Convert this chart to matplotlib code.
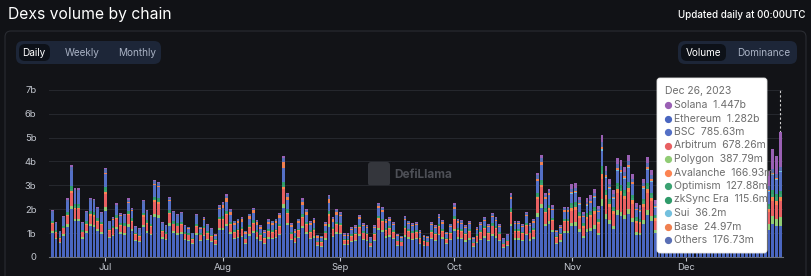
import numpy as np
import pandas as pd
import matplotlib
matplotlib.use("Agg")
import matplotlib.pyplot as plt
from matplotlib.patches import FancyBboxPatch
from matplotlib.lines import Line2D

plt.rcParams['font.family'] = ['Inter', 'DejaVu Sans']

# daily total volume (billions USD)
jun_tot = [1.96, 1.45, 1.10, 1.71, 2.45, 3.84, 2.87, 2.87, 1.47, 1.93, 2.48, 2.42, 2.10, 1.89]
jul_tot = [3.74, 1.52, 1.68, 2.24, 1.85, 1.80, 2.45, 2.07, 1.29, 1.20, 2.38, 1.96, 1.75, 3.24,
           3.15, 1.47, 1.34, 2.52, 1.92, 1.80, 1.87, 1.34, 1.27, 1.02, 1.78, 1.27, 1.68, 1.38,
           1.20, 0.96, 2.17]
aug_tot = [2.31, 2.62, 1.99, 1.52, 1.61, 1.68, 1.10, 1.82, 2.07, 1.54, 1.34, 1.13, 1.57, 1.52,
           1.61, 1.85, 4.22, 2.69, 1.41, 1.16, 1.61, 2.45, 1.99, 1.50, 1.64, 0.92, 0.88, 1.47,
           2.59, 1.68, 1.99]
sep_tot = [1.89, 0.99, 0.99, 1.24, 1.34, 1.76, 1.43, 1.34, 0.82, 1.34, 2.27, 2.10, 1.60, 1.68,
           1.47, 0.96, 0.89, 1.71, 1.52, 1.43, 1.47, 1.12, 0.92, 0.89, 1.47, 1.34, 1.80, 1.54,
           1.06, 1.40]
oct_tot = [2.24, 1.60, 1.54, 1.34, 1.52, 0.85, 1.24, 1.47, 1.68, 1.40, 1.85, 1.68, 1.38, 0.78,
           0.96, 2.68, 1.52, 1.52, 1.40, 1.89, 1.43, 1.60, 3.52, 4.26, 2.68, 2.86, 2.17, 1.15,
           1.34, 2.10, 2.10]
nov_tot = [3.04, 3.09, 2.52, 1.90, 2.46, 2.59, 2.83, 2.15, 5.12, 3.81, 3.26, 2.80, 4.16, 4.05,
           3.77, 4.26, 3.49, 2.24, 2.17, 3.28, 4.19, 3.63, 2.38, 2.60, 2.90, 2.40, 3.00, 3.30,
           3.50, 3.20]
dec_tot = [3.10, 2.90, 3.00, 4.20, 4.00, 3.90, 4.60, 3.80, 3.60, 3.20, 4.80, 4.40, 3.90, 3.70,
           3.80, 3.60, 3.30, 3.40, 4.20, 4.10, 3.90, 3.80, 3.60, 4.50, 4.22]

# stacking order (bottom -> top) and colours
chains = ["Ethereum", "Polygon", "Arbitrum", "Avalanche", "Optimism", "zkSync Era",
          "BSC", "Sui", "Base", "Others", "Solana"]
colors = ["#4a66c0", "#91cc75", "#e86062", "#fc8452", "#3ba272", "#2f9b6a",
          "#5470c6", "#73c0de", "#f08050", "#5a6fb5", "#9a60b4"]

# estimated monthly share of each chain (Jun .. Dec)
share_eth = [0.52, 0.52, 0.49, 0.50, 0.48, 0.42, 0.31]
share_polygon = [0.04, 0.04, 0.04, 0.04, 0.04, 0.05, 0.07]
share_arb = [0.14, 0.15, 0.14, 0.15, 0.17, 0.17, 0.14]
share_avax = [0.02, 0.02, 0.02, 0.02, 0.02, 0.04, 0.04]
share_op = [0.02, 0.02, 0.02, 0.02, 0.02, 0.03, 0.03]
share_zksync = [0.03, 0.03, 0.03, 0.03, 0.03, 0.03, 0.03]
share_bsc = [0.17, 0.15, 0.14, 0.14, 0.14, 0.13, 0.14]
share_sui = [0.00, 0.00, 0.00, 0.00, 0.00, 0.01, 0.01]
share_base = [0.00, 0.01, 0.06, 0.04, 0.03, 0.02, 0.01]
share_others = [0.04, 0.04, 0.04, 0.04, 0.04, 0.04, 0.04]
share_sol = [0.02, 0.02, 0.02, 0.02, 0.03, 0.06, 0.18]

# tooltip: Dec 26, 2023 (billions)
tip_names = ["Solana", "Ethereum", "BSC", "Arbitrum", "Polygon", "Avalanche",
             "Optimism", "zkSync Era", "Sui", "Base", "Others"]
tip_values = [1.447, 1.282, 0.78563, 0.67826, 0.38779, 0.16693,
              0.12788, 0.1156, 0.0362, 0.02497, 0.17673]

shares = [share_eth, share_polygon, share_arb, share_avax, share_op, share_zksync,
          share_bsc, share_sui, share_base, share_others, share_sol]

totals = np.array(jun_tot + jul_tot + aug_tot + sep_tot + oct_tot + nov_tot + dec_tot)
dates = pd.date_range("2023-06-17", periods=len(totals) + 1, freq="D")
month_idx = dates.month.values[:-1] - 6

seg = np.zeros((len(chains), len(dates)))
for k, sh in enumerate(shares):
    seg[k, :-1] = totals * np.array(sh)[month_idx]
tip_map = dict(zip(tip_names, tip_values))
seg[:, -1] = [tip_map[c] for c in chains]

W, H = 811, 276
BG = "#111216"

fig = plt.figure(figsize=(W / 100, H / 100), dpi=100, facecolor=BG)

# background / decoration layer in pixel coords
bg = fig.add_axes([0, 0, 1, 1], zorder=0)
bg.set_xlim(0, W)
bg.set_ylim(H, 0)
bg.axis("off")

bg.text(8, 15, "Dexs volume by chain", color="white", fontsize=11.3, va="center", ha="left")
bg.text(805, 15, "Updated daily at 00:00UTC", color="white", fontsize=7,
        va="center", ha="right", fontweight="medium")

bg.add_patch(FancyBboxPatch((5, 31), 801, 270, boxstyle="round,pad=0,rounding_size=6",
                            facecolor="#121317", edgecolor="#2a2c32", linewidth=0.8))


def button_group(x0, x1, labels, centers, sel):
    bg.add_patch(FancyBboxPatch((x0, 41), x1 - x0, 23, boxstyle="round,pad=0,rounding_size=7",
                                facecolor="#1d2638", edgecolor="none"))
    sx0, sx1 = sel
    bg.add_patch(FancyBboxPatch((sx0, 44), sx1 - sx0, 17, boxstyle="round,pad=0,rounding_size=6",
                                facecolor="#0d1118", edgecolor="none"))
    for i, (lab, cx) in enumerate(zip(labels, centers)):
        bg.text(cx, 52.5, lab, ha="center", va="center", fontsize=7.2,
                color="white" if i == 0 else "#a9b2c4")


button_group(16, 161, ["Daily", "Weekly", "Monthly"], [34, 82, 137], (19, 50))
button_group(678, 797, ["Volume", "Dominance"], [703, 764], (681, 726))

# watermark
bg.add_patch(FancyBboxPatch((368, 162), 22, 24, boxstyle="round,pad=0,rounding_size=3",
                            facecolor="#34363c", edgecolor="none"))
bg.text(394, 175, "DefiLlama", color="#4d4f56", fontsize=8.5, fontweight="bold",
        va="center", ha="left")

# chart
ax = fig.add_axes([49 / W, 1 - 257 / H, (783 - 49) / W, (257 - 89.7) / H], zorder=1)
ax.set_facecolor("none")
x = dates.values
bottom = np.zeros(len(dates))
for k in range(len(chains)):
    ax.bar(x, seg[k], bottom=bottom, width=0.72, color=colors[k], linewidth=0, zorder=3)
    bottom += seg[k]

ax.axvline(x[-1], ymin=0, ymax=1, color="#d0d0d0", linestyle=(0, (2, 2)), linewidth=0.8, zorder=2)

ax.set_ylim(0, 7)
ax.set_xlim(dates[0] - pd.Timedelta(hours=21), dates[-1] + pd.Timedelta(hours=17))
ax.set_yticks(range(8))
ax.set_yticklabels(["0"] + [f"{i}b" for i in range(1, 8)])
month_starts = pd.to_datetime(["2023-07-01", "2023-08-01", "2023-09-01",
                               "2023-10-01", "2023-11-01", "2023-12-01"])
ax.set_xticks(month_starts)
ax.set_xticklabels(["Jul", "Aug", "Sep", "Oct", "Nov", "Dec"])
ax.grid(axis="y", color="#26282e", linewidth=0.7, zorder=0)
ax.tick_params(axis="y", length=0, labelsize=6.8, colors="#c3c7cf", pad=9)
ax.tick_params(axis="x", length=3, width=0.8, labelsize=6.8, colors="#c3c7cf", pad=1.5)
for s in ["top", "right", "left"]:
    ax.spines[s].set_visible(False)
ax.spines["bottom"].set_color("#6b6f78")
ax.spines["bottom"].set_linewidth(0.8)

# tooltip overlay
ov = fig.add_axes([0, 0, 1, 1], zorder=2)
ov.set_xlim(0, W)
ov.set_ylim(H, 0)
ov.axis("off")
ov.patch.set_alpha(0)
ov.add_patch(FancyBboxPatch((657, 78), 110, 175, boxstyle="round,pad=0,rounding_size=3",
                            facecolor="white", edgecolor="#e6e6e6", linewidth=0.6))
ov.text(665, 91, "Dec 26, 2023", color="#6e6e6e", fontsize=7.5, va="center", ha="left")


def fmt(v):
    if v >= 1:
        return f"{v:.3f}b"
    return f"{v * 1000:.2f}".rstrip("0").rstrip(".") + "m"


for i, (name, val) in enumerate(zip(tip_names, tip_values)):
    yy = 105 + 13.5 * i
    ov.add_line(Line2D([668], [yy], marker="o", markersize=4.2, color=colors[chains.index(name)],
                       linestyle="none"))
    ov.text(673.5, yy, f"{name}  {fmt(val)}", color="#6e6e6e", fontsize=7.5, va="center", ha="left")

fig.savefig("out.png", dpi=100, facecolor=BG)
